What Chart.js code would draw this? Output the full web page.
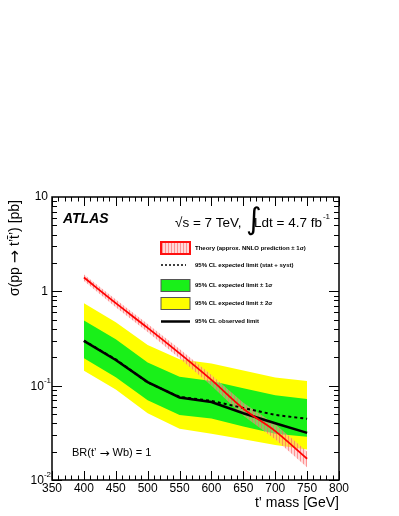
<!DOCTYPE html>
<html>
<head>
<meta charset="utf-8">
<script src="https://cdn.jsdelivr.net/npm/chart.js@4.4.1/dist/chart.umd.min.js"></script>
<style>
  html, body { margin: 0; padding: 0; background: #fff; }
  #wrap { width: 399px; height: 516px; }
</style>
</head>
<body>
<div id="wrap"><canvas id="limit" width="399" height="516"></canvas></div>
<script>
// t' masses (GeV) and limits on sigma(pp -> t't'bar) in pb
const masses = [400, 450, 500, 550, 600, 650, 700, 750];
const observed = [0.298, 0.187, 0.109, 0.075, 0.067, 0.051, 0.040, 0.0316];
const expected = [0.30, 0.19, 0.108, 0.076, 0.069, 0.058, 0.049, 0.0445];
const sigma1Up = [0.49, 0.31, 0.176, 0.124, 0.112, 0.094, 0.079, 0.072];
const sigma1Down = [0.195, 0.123, 0.070, 0.049, 0.045, 0.037, 0.031, 0.0288];
const sigma2Up = [0.75, 0.47, 0.27, 0.19, 0.172, 0.145, 0.122, 0.112];
const sigma2Down = [0.144, 0.091, 0.051, 0.035, 0.031, 0.027, 0.0235, 0.021];
const theory = [1.40, 0.75, 0.41, 0.22, 0.115, 0.057, 0.033, 0.0168];
const theoryUp = [1.51, 0.82, 0.45, 0.245, 0.13, 0.066, 0.039, 0.020];
const theoryDown = [1.29, 0.68, 0.37, 0.195, 0.10, 0.048, 0.027, 0.0136];

const xTickLabels = [350, 400, 450, 500, 550, 600, 650, 700, 750, 800];
const yDecades = [0.01, 0.1, 1, 10];
const yDecadeLabels = [['10', '-2'], ['10', '-1'], ['1', ''], ['10', '']];

const FONT = "'Liberation Sans', Arial, sans-serif";
const ARROW_FONT = "'DejaVu Sans', sans-serif";
const GREEN = '#19f019';
const YELLOW = '#ffff00';

function pts(arr) {
    return masses.map(function (m, i) {
        return { x: m, y: arr[i] };
    });
}

function hatchPattern() {
    const c = document.createElement('canvas');
    c.width = 3;
    c.height = 3;
    const g = c.getContext('2d');
    g.fillStyle = 'rgba(255,170,170,0.45)';
    g.fillRect(0, 0, 3, 3);
    g.fillStyle = 'rgba(255,90,90,0.55)';
    g.fillRect(0, 0, 1, 3);
    return g.createPattern(c, 'repeat');
}

const hatch = hatchPattern();

// draw text made of pieces in different fonts, left aligned at x
function richText(ctx, parts, x, y) {
    let cx = x;
    parts.forEach(function (p) {
        ctx.font = p[1];
        ctx.fillText(p[0], cx, y + (p[2] || 0));
        cx += ctx.measureText(p[0]).width;
    });
    return cx - x;
}

function richWidth(ctx, parts) {
    let w = 0;
    parts.forEach(function (p) {
        ctx.font = p[1];
        w += ctx.measureText(p[0]).width;
    });
    return w;
}

const band = { pointRadius: 0, borderWidth: 0, tension: 0 };

const rootFrame = {
    id: 'rootFrame',
    afterDraw(chart) {
        const ctx = chart.ctx;
        const a = chart.chartArea;
        const xs = chart.scales.x;
        const ys = chart.scales.y;
        ctx.save();

        // frame
        ctx.strokeStyle = '#000';
        ctx.lineWidth = 1.5;
        ctx.strokeRect(a.left, a.top, a.right - a.left, a.bottom - a.top);

        // x ticks (bottom + top, pointing inward)
        ctx.lineWidth = 1;
        for (let v = 350; v <= 800; v += 10) {
            const p = Math.round(xs.getPixelForValue(v)) + 0.5;
            const len = v % 50 === 0 ? 9 : 4.5;
            ctx.beginPath();
            ctx.moveTo(p, a.bottom);
            ctx.lineTo(p, a.bottom - len);
            ctx.moveTo(p, a.top);
            ctx.lineTo(p, a.top + len);
            ctx.stroke();
        }
        // y ticks (left + right)
        for (let d = 0; d < yDecades.length - 1; d++) {
            for (let m = 1; m <= 9; m++) {
                const v = yDecades[d] * m;
                const p = Math.round(ys.getPixelForValue(v)) + 0.5;
                const len = m === 1 ? 10 : 5;
                ctx.beginPath();
                ctx.moveTo(a.left, p);
                ctx.lineTo(a.left + len, p);
                ctx.moveTo(a.right, p);
                ctx.lineTo(a.right - len, p);
                ctx.stroke();
            }
        }

        // x tick labels
        ctx.fillStyle = '#000';
        ctx.font = '12px ' + FONT;
        ctx.textAlign = 'center';
        ctx.textBaseline = 'middle';
        xTickLabels.forEach(function (v) {
            ctx.fillText(String(v), xs.getPixelForValue(v), a.bottom + 9);
        });

        // y tick labels
        yDecades.forEach(function (v, i) {
            const p = ys.getPixelForValue(v);
            const base = yDecadeLabels[i][0];
            const sup = yDecadeLabels[i][1];
            ctx.font = '12px ' + FONT;
            ctx.textBaseline = 'middle';
            ctx.textAlign = 'right';
            if (sup) {
                ctx.font = '8px ' + FONT;
                const sw = ctx.measureText(sup).width;
                ctx.fillText(sup, a.left - 1, p - 5);
                ctx.font = '12px ' + FONT;
                ctx.fillText(base, a.left - 1 - sw, p + 1);
            } else {
                ctx.fillText(base, a.left - 4, p);
            }
        });

        // axis titles
        ctx.font = '14px ' + FONT;
        ctx.textAlign = 'right';
        ctx.textBaseline = 'middle';
        ctx.fillText('t\u2019 mass [GeV]', a.right, a.bottom + 23);

        const yTitle = [
            ['\u03c3(pp ', '14px ' + FONT],
            ['\u2192', '16px ' + ARROW_FONT, 1],
            [' t\u2019t\u0304\u2019) [pb]', '14px ' + FONT],
        ];
        ctx.save();
        ctx.translate(15, a.top + 3);
        ctx.rotate(-Math.PI / 2);
        ctx.textAlign = 'left';
        richText(ctx, yTitle, -richWidth(ctx, yTitle), 0);
        ctx.restore();

        // ATLAS label
        ctx.textAlign = 'left';
        ctx.textBaseline = 'alphabetic';
        ctx.font = 'italic bold 14px ' + FONT;
        ctx.fillText('ATLAS', 63, 223);

        // sqrt(s) and luminosity
        ctx.font = '13.5px ' + FONT;
        ctx.fillText('\u221as = 7 TeV,', 175, 227);
        ctx.font = '30px ' + ARROW_FONT;
        ctx.fillText('\u222b', 246, 229);
        ctx.font = '13.5px ' + FONT;
        ctx.fillText('Ldt = 4.7 fb', 254, 227);
        const fbw = ctx.measureText('Ldt = 4.7 fb').width;
        ctx.font = '8px ' + FONT;
        ctx.fillText('-1', 254 + fbw + 1, 219);

        // BR label
        ctx.textBaseline = 'middle';
        richText(ctx, [
            ['BR(t\u2019 ', '11px ' + FONT],
            ['\u2192', '12px ' + ARROW_FONT, 1],
            [' Wb) = 1', '11px ' + FONT],
        ], 72, 453);

        // legend
        const lx0 = 161;
        const lx1 = 190;
        const tx = 195;

        ctx.fillStyle = hatch;
        ctx.fillRect(lx0, 242, lx1 - lx0, 12);
        ctx.strokeStyle = '#ff1010';
        ctx.lineWidth = 2;
        ctx.strokeRect(lx0, 242, lx1 - lx0, 12);

        ctx.strokeStyle = '#000';
        ctx.lineWidth = 1.5;
        ctx.setLineDash([2, 2]);
        ctx.beginPath();
        ctx.moveTo(lx0, 265);
        ctx.lineTo(lx1 - 4, 265);
        ctx.stroke();
        ctx.setLineDash([]);

        ctx.lineWidth = 1;
        ctx.strokeStyle = '#555';
        ctx.fillStyle = GREEN;
        ctx.fillRect(lx0, 279.5, lx1 - lx0, 12);
        ctx.strokeRect(lx0, 279.5, lx1 - lx0, 12);
        ctx.fillStyle = YELLOW;
        ctx.fillRect(lx0, 297.5, lx1 - lx0, 12);
        ctx.strokeRect(lx0, 297.5, lx1 - lx0, 12);

        ctx.strokeStyle = '#000';
        ctx.lineWidth = 2.5;
        ctx.beginPath();
        ctx.moveTo(lx0, 321.5);
        ctx.lineTo(lx1, 321.5);
        ctx.stroke();

        ctx.fillStyle = '#000';
        ctx.font = 'bold 6px ' + FONT;
        ctx.fillText('Theory (approx. NNLO prediction \u00b1 1\u03c3)', tx, 248);
        ctx.fillText('95% CL expected limit (stat + syst)', tx, 265.5);
        ctx.fillText('95% CL expected limit \u00b1 1\u03c3', tx, 285.5);
        ctx.fillText('95% CL expected limit \u00b1 2\u03c3', tx, 303.5);
        ctx.fillText('95% CL observed limit', tx, 321.5);

        ctx.restore();
    },
};

new Chart(document.getElementById('limit'), {
    type: 'line',
    data: {
        datasets: [
            { data: pts(sigma2Up), fill: '+1', backgroundColor: YELLOW, order: 10, ...band },
            { data: pts(sigma2Down), fill: false, order: 9, ...band },
            { data: pts(sigma1Up), fill: '+1', backgroundColor: GREEN, order: 8, ...band },
            { data: pts(sigma1Down), fill: false, order: 7, ...band },
            { data: pts(theoryUp), fill: '+1', backgroundColor: hatch, order: 6, ...band },
            { data: pts(theoryDown), fill: false, order: 5, ...band },
            {
                data: pts(expected),
                fill: false,
                borderColor: '#000',
                borderWidth: 2,
                borderDash: [3, 3],
                pointRadius: 0,
                order: 4,
            },
            {
                data: pts(observed),
                fill: false,
                borderColor: '#000',
                borderWidth: 2.5,
                pointRadius: 0,
                order: 3,
            },
            {
                data: pts(theory),
                fill: false,
                borderColor: '#ff0000',
                borderWidth: 1.8,
                pointRadius: 0,
                cubicInterpolationMode: 'monotone',
                order: 2,
            },
        ],
    },
    options: {
        responsive: false,
        animation: false,
        devicePixelRatio: 1,
        layout: { padding: { left: 52, right: 60, top: 197, bottom: 36 } },
        scales: {
            x: { type: 'linear', min: 350, max: 800, display: false },
            y: { type: 'logarithmic', min: 0.01, max: 10, display: false },
        },
        plugins: {
            legend: { display: false },
            tooltip: { enabled: false },
        },
    },
    plugins: [rootFrame],
});
</script>
</body>
</html>
